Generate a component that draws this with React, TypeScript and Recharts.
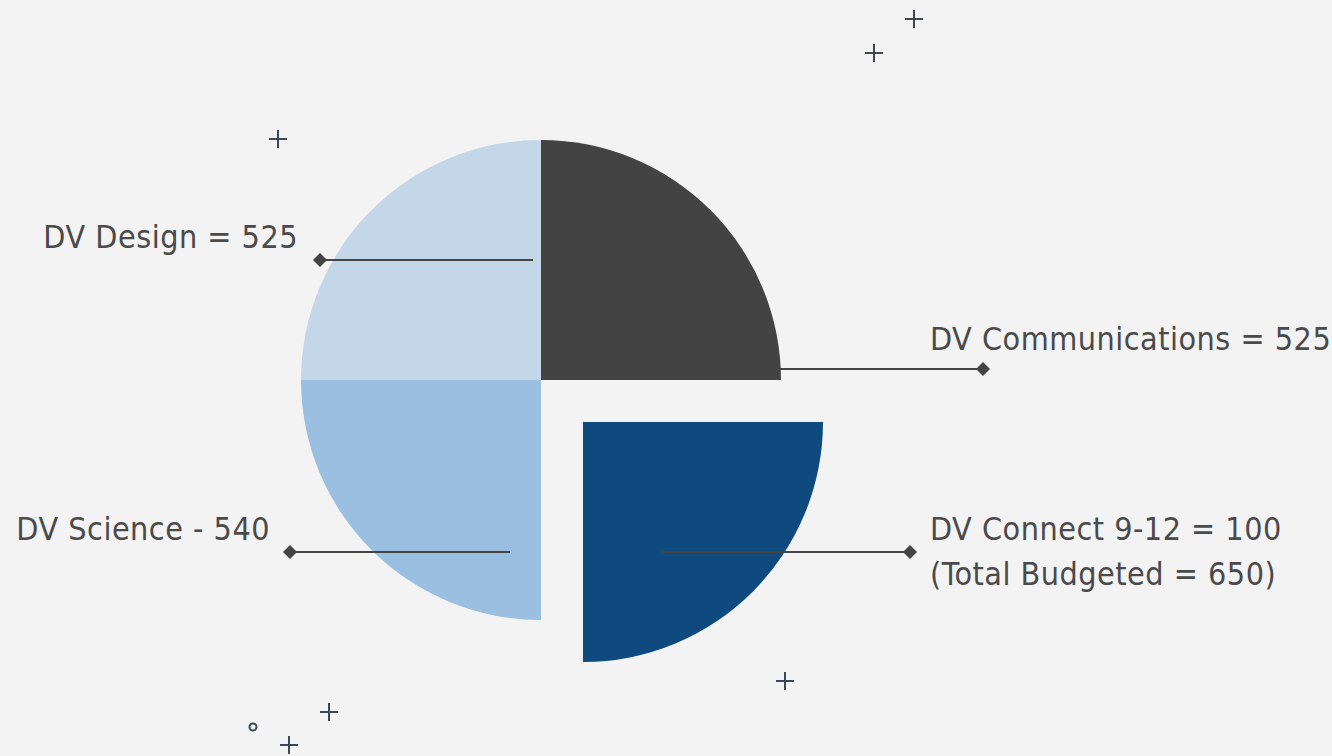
import React from "react";
import { PieChart, Pie, Cell, Customized } from "recharts";

// Data
const programs = ["DV Communications", "DV Connect 9-12", "DV Science", "DV Design"];
const sliceShares = [25, 25, 25, 25];
const labelLines = [
  ["DV Communications = 525"],
  ["DV Connect 9-12 = 100", "(Total Budgeted = 650)"],
  ["DV Science - 540"],
  ["DV Design = 525"],
];
const explodedProgram = "DV Connect 9-12";

// Styles
const sliceColors = ["#434343", "#0f4a7f", "#9abfe1", "#c4d7e9"];
const INK = "#444444";
const TEXT = "#4a4a4a";
const FONT = "'DejaVu Sans Condensed', 'DejaVu Sans', sans-serif";

// label layout relative to pie center: [lineY, lineFromX, diamondX, textX, textBaseline, anchor]
const labelLayout: [number, number, number, number, number, "start" | "end"][] = [
  [-11, 239, 442, 389, -30, "start"],
  [172, 121, 369, 389, 160, "start"],
  [172, -31, -251, -271, 160, "end"],
  [-120, -8, -221, -243, -132, "end"],
];

const data = programs.map((name, i) => ({ name, value: sliceShares[i], lines: labelLines[i] }));

const Diamond = ({ x, y }: { x: number; y: number }) => (
  <polygon points={`${x},${y - 7} ${x + 7},${y} ${x},${y + 7} ${x - 7},${y}`} fill={INK} />
);

const renderLabel = (props: any) => {
  const { cx, cy, index } = props;
  const [ly, lx0, dx, tx, tb, anchor] = labelLayout[index];
  const lines: string[] = data[index].lines;
  return (
    <g key={`lbl-${index}`}>
      <line x1={cx + lx0} y1={cy + ly} x2={cx + dx} y2={cy + ly} stroke={INK} strokeWidth={2} />
      <Diamond x={cx + dx} y={cy + ly} />
      {lines.map((t, k) => (
        <text
          key={k}
          x={cx + tx}
          y={cy + tb + k * 45}
          textAnchor={anchor}
          fontFamily={FONT}
          fontStretch="condensed"
          fontSize={32}
          letterSpacing={0.5}
          fill={TEXT}
        >
          {t}
        </text>
      ))}
    </g>
  );
};

const plusMarks = [
  [914, 19],
  [874, 53],
  [278, 139],
  [785, 681],
  [329, 712],
  [289, 745],
];

const Decor = () => (
  <g>
    {plusMarks.map(([x, y], i) => (
      <g key={i} stroke="#3f4750" strokeWidth={2}>
        <line x1={x - 9} y1={y} x2={x + 9} y2={y} />
        <line x1={x} y1={y - 9} x2={x} y2={y + 9} />
      </g>
    ))}
    <circle cx={253} cy={727} r={3.5} fill="none" stroke="#3f4750" strokeWidth={2} />
  </g>
);

export default function App() {
  return (
    <div
      style={{
        position: "absolute",
        left: 0,
        top: 0,
        width: 1332,
        height: 756,
        background: "#f3f3f3",
      }}
    >
      <PieChart width={1332} height={756} margin={{ top: 0, right: 0, bottom: 0, left: 0 }}>
        <Pie
          data={data}
          dataKey="value"
          nameKey="name"
          cx={541}
          cy={380}
          outerRadius={240}
          startAngle={90}
          endAngle={-270}
          stroke="none"
          labelLine={false}
          label={renderLabel}
          isAnimationActive={false}
        >
          {data.map((d, i) => (
            <Cell key={i} fill={d.name === explodedProgram ? "none" : sliceColors[i]} />
          ))}
        </Pie>
        <Pie
          data={data}
          dataKey="value"
          nameKey="name"
          cx={583}
          cy={422}
          outerRadius={240}
          startAngle={90}
          endAngle={-270}
          stroke="none"
          isAnimationActive={false}
        >
          {data.map((d, i) => (
            <Cell key={i} fill={d.name === explodedProgram ? sliceColors[i] : "none"} />
          ))}
        </Pie>
        <Customized component={Decor} />
      </PieChart>
    </div>
  );
}
